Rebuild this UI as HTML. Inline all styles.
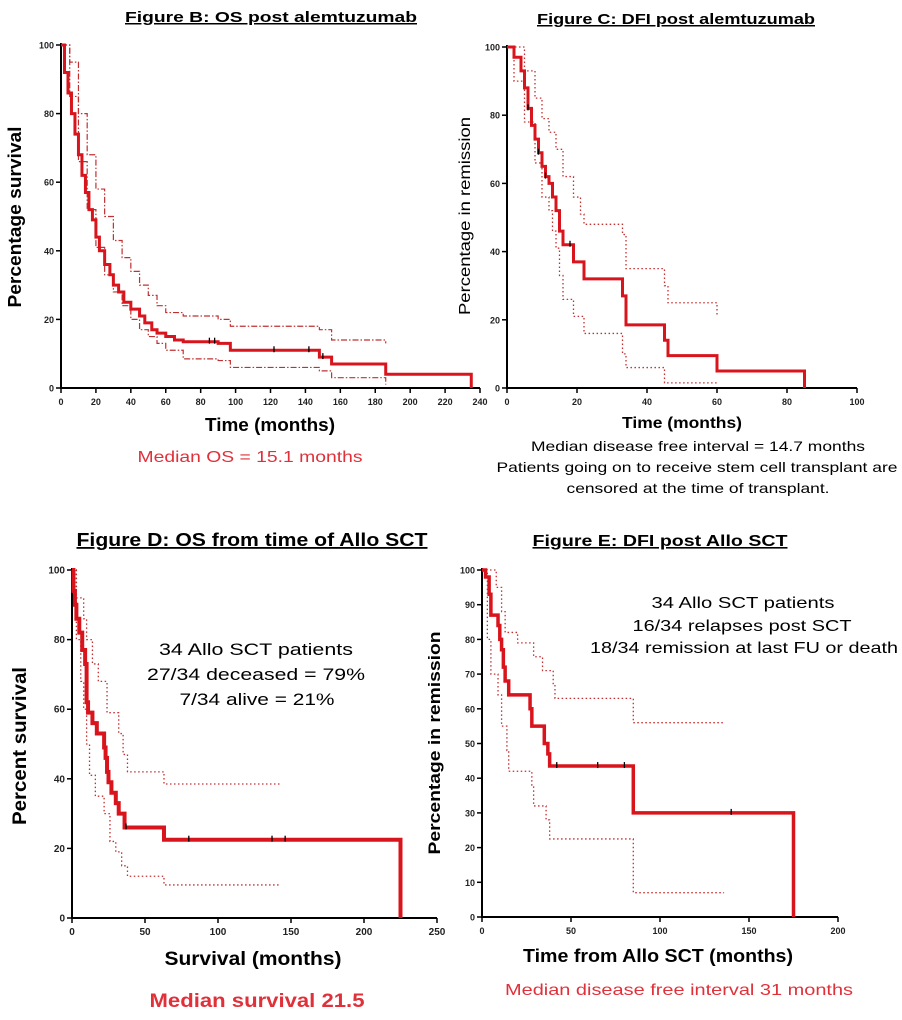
<!DOCTYPE html>
<html><head><meta charset="utf-8"><style>
body{margin:0;background:#fff;}
svg{display:block;font-family:"Liberation Sans",Arial,sans-serif;}
</style></head><body>
<svg id="s" width="902" height="1020" viewBox="0 0 902 1020">
<g>
<text x="271" y="22" font-size="15" font-weight="bold" text-anchor="middle" text-decoration="underline" textLength="292" lengthAdjust="spacingAndGlyphs">Figure B: OS post alemtuzumab</text>
<text x="676" y="24" font-size="15" font-weight="bold" text-anchor="middle" text-decoration="underline" textLength="278" lengthAdjust="spacingAndGlyphs">Figure C: DFI post alemtuzumab</text>
<text x="252" y="546" font-size="18" font-weight="bold" text-anchor="middle" text-decoration="underline" textLength="351" lengthAdjust="spacingAndGlyphs">Figure D: OS from time of Allo SCT</text>
<text x="660" y="546" font-size="16" font-weight="bold" text-anchor="middle" text-decoration="underline" textLength="255" lengthAdjust="spacingAndGlyphs">Figure E: DFI post Allo SCT</text>
<text transform="translate(21,217) rotate(-90)" font-size="18" font-weight="bold" text-anchor="middle" textLength="181" lengthAdjust="spacingAndGlyphs">Percentage survival</text>
<text x="270" y="431" font-size="18" font-weight="bold" text-anchor="middle" textLength="130" lengthAdjust="spacingAndGlyphs">Time (months)</text>
<text x="250" y="462" font-size="16" fill="#e0303a" text-anchor="middle" textLength="225" lengthAdjust="spacingAndGlyphs">Median OS = 15.1 months</text>
<text transform="translate(470,216) rotate(-90)" font-size="16" text-anchor="middle" textLength="198" lengthAdjust="spacingAndGlyphs">Percentage in remission</text>
<text x="682" y="428" font-size="16" font-weight="bold" text-anchor="middle" textLength="120" lengthAdjust="spacingAndGlyphs">Time (months)</text>
<text x="698" y="451" font-size="14" text-anchor="middle" textLength="334" lengthAdjust="spacingAndGlyphs">Median disease free interval = 14.7 months</text>
<text x="697" y="472" font-size="14" text-anchor="middle" textLength="401" lengthAdjust="spacingAndGlyphs">Patients going on to receive stem cell transplant are</text>
<text x="698" y="493" font-size="14" text-anchor="middle" textLength="263" lengthAdjust="spacingAndGlyphs">censored at the time of transplant.</text>
<text transform="translate(26,746) rotate(-90)" font-size="19" font-weight="bold" text-anchor="middle" textLength="158" lengthAdjust="spacingAndGlyphs">Percent survival</text>
<text x="256" y="655" font-size="17" text-anchor="middle" textLength="194" lengthAdjust="spacingAndGlyphs">34 Allo SCT patients</text>
<text x="256" y="680" font-size="17" text-anchor="middle" textLength="218" lengthAdjust="spacingAndGlyphs">27/34 deceased = 79%</text>
<text x="257" y="705" font-size="17" text-anchor="middle" textLength="155" lengthAdjust="spacingAndGlyphs">7/34 alive = 21%</text>
<text x="253" y="965" font-size="19" font-weight="bold" text-anchor="middle" textLength="177" lengthAdjust="spacingAndGlyphs">Survival (months)</text>
<text x="257" y="1007" font-size="19" font-weight="bold" fill="#e0303a" text-anchor="middle" textLength="215" lengthAdjust="spacingAndGlyphs">Median survival  21.5</text>
<text transform="translate(440,743) rotate(-90)" font-size="17" font-weight="bold" text-anchor="middle" textLength="223" lengthAdjust="spacingAndGlyphs">Percentage in remission</text>
<text x="743" y="608" font-size="16" text-anchor="middle" textLength="183" lengthAdjust="spacingAndGlyphs">34 Allo SCT patients</text>
<text x="742" y="631" font-size="16" text-anchor="middle" textLength="219" lengthAdjust="spacingAndGlyphs">16/34 relapses post SCT</text>
<text x="744" y="653" font-size="16" text-anchor="middle" textLength="308" lengthAdjust="spacingAndGlyphs">18/34 remission at last FU or death</text>
<text x="658" y="962" font-size="18" font-weight="bold" text-anchor="middle" textLength="270" lengthAdjust="spacingAndGlyphs">Time from Allo SCT (months)</text>
<text x="679" y="995" font-size="16" fill="#e0303a" text-anchor="middle" textLength="348" lengthAdjust="spacingAndGlyphs">Median disease free interval 31 months</text>
</g>
</svg>
<script>
// Panel B
const bTime=[0,2,4,6,8,10,12,14,16,18,20,22,25,28,30,33,36,40,45,48,52,55,60,65,70,90,97,148,155,186,235];
const bSurv=[100,92,86,80,74,68,62,57,52,49,44,40,36,33,30,28,25,23,21,19,17,16,15,14,13.5,13,11,9,7,4,0];
const bUpT=[0,5,10,15,20,25,30,35,40,45,50,55,60,70,90,97,148,155,186];
const bUpV=[100,95,80,68,58,50,43,38,34,30,27,24,22,21,20,18,17,14,13];
const bLoT=[0,5,10,15,20,25,30,35,40,45,50,55,60,70,90,97,148,155,186];
const bLoV=[100,85,66,52,41,33,28,24,20,17,15,13,11,8.5,8,6,5,3,1];
const bCens=[85,88,122,142,150];
const bTicksX=[0,20,40,60,80,100,120,140,160,180,200,220,240];
// Panel C
const cTime=[0,2,4,5,6,7,8,9,10,11,12,13,14,15,16,19,22,33,34,45,46,60,85];
const cSurv=[100,97,93,88,82,77,73,69,65,62,60,56,52,46,42,37,32,27,18.5,14,9.5,5,0];
const cUpT=[0,5,8,10,12,14,16,19,21,22,33,34,45,46,60];
const cUpV=[100,93,85,79,75,70,62,56,51,48,45,35,30,25,21];
const cLoT=[0,2,5,8,10,12,13,14,15,16,19,22,33,34,45,60];
const cLoV=[100,90,78,66,56,52,46,41,33,26,21,16,10,6,1.5,1];
const cCens=[6,9,11,18];
const cTicksX=[0,20,40,60,80,100];
// Panel D
const dTime=[0,1,2,3,5,7,9,10,11,14,17,22,23,24,25,27,30,32,36,63,225];
const dSurv=[100,94,90,86,82,77,73,62,59,56,53,49,46,42,39,36,33,30,26,22.5,0];
const dUpT=[0,3,8,10,14,18,24,32,35,38,63,143];
const dUpV=[100,92,86,80,73,68,59,53,47,42,38.5,38.5];
const dLoT=[0,3,6,8,10,12,16,22,26,30,34,38,63,143];
const dLoV=[100,80,68,60,50,41,35,30,22,19,15,12,9.5,9.5];
const dCens=[37,80,137,146];
const dTicksX=[0,50,100,150,200,250];
// Panel E
const eTime=[0,2,4,5,9,10,11,12,13,15,27,28,35,37,38,85,175];
const eSurv=[100,98,93,87,84,80,77,72,68,64,60,55,50,47,43.5,30,0];
const eUpT=[0,8,11,13,20,29,34,40,41,85,136];
const eUpV=[100,95,88,82,79,75,71,67,63,56,56];
const eLoT=[0,3,5,9,11,14,15,28,29,36,38,85,136];
const eLoV=[100,80,70,64,55,48,42,38,32,28,22.5,7,7];
const eCens=[42,65,80,140];
const eTicksX=[0,50,100,150,200];

const svg=document.getElementById('s');
const NS='http://www.w3.org/2000/svg';
function mk(t,a){const e=document.createElementNS(NS,t);for(const k in a)e.setAttribute(k,a[k]);svg.appendChild(e);return e;}
function panel(id,x0,x1,y0,y1,xmax,ticksX,ticksY,fs){
  const sx=v=>x0+(x1-x0)*v/xmax, sy=v=>y0+(y1-y0)*v/100;
  const ax=mk('path',{d:`M${x0} ${y1-2}V${y0}H${x1}`,stroke:'#000','stroke-width':2,fill:'none'});
  
  
  ticksX.forEach(v=>{
    const t=mk('line',{x1:sx(v),x2:sx(v),y1:y0,y2:y0+5,stroke:'#000','stroke-width':1.5});
    
    
    const l=mk('text',{x:sx(v),y:y0+17,'font-size':fs,'font-weight':'bold','text-anchor':'middle',fill:'#222'});
    l.textContent=v;
    
    
  });
  ticksY.forEach(v=>{
    const t=mk('line',{x1:x0-5,x2:x0,y1:sy(v),y2:sy(v),stroke:'#000','stroke-width':1.5});
    
    
    const l=mk('text',{x:x0-7,y:sy(v)+3.5,'font-size':fs,'font-weight':'bold','text-anchor':'end',fill:'#222'});
    l.textContent=v;
    
    
  });
  return {sx,sy};
}
function step(p,T,V,attrs,name){
  let d=`M${p.sx(T[0])} ${p.sy(V[0])}`;
  for(let i=1;i<T.length;i++){d+=`H${p.sx(T[i])}V${p.sy(V[i])}`;}
  const e=mk('path',Object.assign({d,fill:'none'},attrs));
  
  
}
function cens(p,C,T,V,name){
  C.forEach(c=>{let v=V[0];for(let i=0;i<T.length;i++)if(T[i]<=c)v=V[i];
    const e=mk('line',{x1:p.sx(c),x2:p.sx(c),y1:p.sy(v)-4,y2:p.sy(v)+2,stroke:'#000','stroke-width':1.3});
    
    });
}
const red='#d8141c',ci='#c03030';
const y5=[0,20,40,60,80,100], y10=[0,10,20,30,40,50,60,70,80,90,100];
let p=panel('b',61,480,388,45,240,bTicksX,y5,9);
step(p,bUpT,bUpV,{stroke:ci,'stroke-width':1.2,'stroke-dasharray':'6 2 1.5 2'},'upper-ci-b');
step(p,bLoT,bLoV,{stroke:ci,'stroke-width':1.2,'stroke-dasharray':'6 2 1.5 2'},'lower-ci-b');
step(p,bTime,bSurv,{stroke:red,'stroke-width':3},'survival-curve-b');
cens(p,bCens,bTime,bSurv,'censor-mark-b');
p=panel('c',507,857,388,47,100,cTicksX,y5,9);
step(p,cUpT,cUpV,{stroke:ci,'stroke-width':1.3,'stroke-dasharray':'1.5 2.5'},'upper-ci-c');
step(p,cLoT,cLoV,{stroke:ci,'stroke-width':1.3,'stroke-dasharray':'1.5 2.5'},'lower-ci-c');
step(p,cTime,cSurv,{stroke:red,'stroke-width':3},'remission-curve-c');
cens(p,cCens,cTime,cSurv,'censor-mark-c');
p=panel('d',72,437,918,570,250,dTicksX,y5,10);
step(p,dUpT,dUpV,{stroke:ci,'stroke-width':1.3,'stroke-dasharray':'1.5 2.5'},'upper-ci-d');
step(p,dLoT,dLoV,{stroke:ci,'stroke-width':1.3,'stroke-dasharray':'1.5 2.5'},'lower-ci-d');
step(p,dTime,dSurv,{stroke:red,'stroke-width':4},'survival-curve-d');
cens(p,dCens,dTime,dSurv,'censor-mark-d');
p=panel('e',482,838,917,570,200,eTicksX,y10,9);
step(p,eUpT,eUpV,{stroke:ci,'stroke-width':1.3,'stroke-dasharray':'1.5 2.5'},'upper-ci-e');
step(p,eLoT,eLoV,{stroke:ci,'stroke-width':1.3,'stroke-dasharray':'1.5 2.5'},'lower-ci-e');
step(p,eTime,eSurv,{stroke:red,'stroke-width':3.5},'remission-curve-e');
cens(p,eCens,eTime,eSurv,'censor-mark-e');
</script>
</body></html>
